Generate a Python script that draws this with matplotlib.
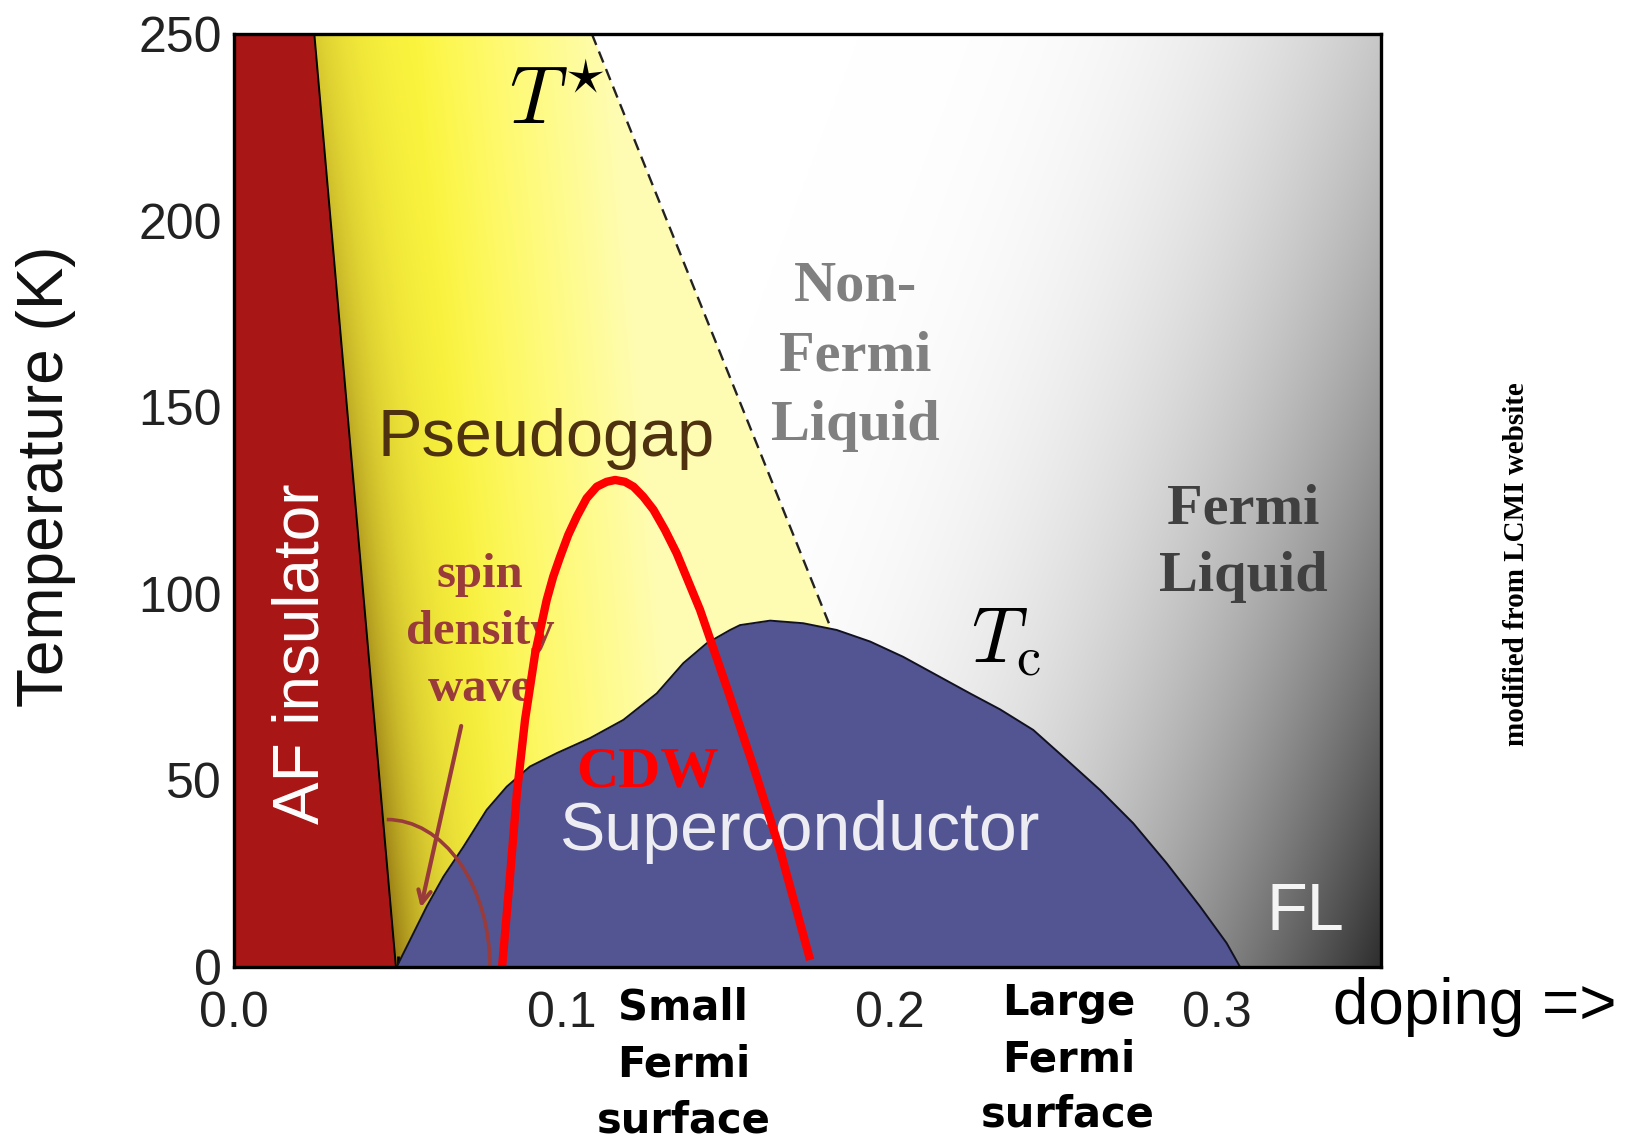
import numpy as np
import matplotlib.pyplot as plt
from matplotlib.patches import Polygon, Arc
from matplotlib.ticker import MultipleLocator

# phase boundaries (doping, temperature in K)
af_x = [0.0245, 0.0494]
af_T = [250, 0]

tstar_x = [0.1092, 0.1818]
tstar_T = [250, 91.5]

dome_x = [0.0496, 0.0537, 0.0588, 0.0639, 0.0700, 0.0771, 0.0832, 0.0903, 0.0985,
          0.1086, 0.1188, 0.1290, 0.1371, 0.1442, 0.1514, 0.1544, 0.1636, 0.1737,
          0.1839, 0.1941, 0.2042, 0.2144, 0.2246, 0.2338, 0.2439, 0.2541, 0.2643,
          0.2744, 0.2846, 0.2948, 0.3029, 0.3070]
dome_T = [0, 7.2, 16.2, 24.2, 32.2, 42.1, 48.3, 53.7, 57.3,
          61.3, 66.2, 73.3, 81.4, 86.7, 90.3, 91.6, 92.8, 92.1,
          90.3, 87.2, 83.1, 78.2, 73.3, 69.0, 63.5, 55.5, 47.4,
          38.5, 27.8, 16.2, 6.4, 0]

cdw_x = [0.0818, 0.0842, 0.0863, 0.0888, 0.0919, 0.0954, 0.0974, 0.0995, 0.1020,
         0.1046, 0.1076, 0.1107, 0.1137, 0.1163, 0.1193, 0.1219, 0.1249, 0.1280,
         0.1315, 0.1351, 0.1422, 0.1503, 0.1585, 0.1666, 0.1758]
cdw_T = [0, 24.2, 46.5, 66.2, 84.1, 98.3, 104.6, 109.9, 115.8,
         120.7, 125.6, 128.7, 130.0, 130.5, 130.0, 128.7, 126.0, 122.5,
         117.1, 110.8, 95.7, 75.1, 53.7, 31.4, 1.9]

# spin density wave marker: quarter ellipse + arrow
sdw_center = (0.0466, 0)
sdw_rx, sdw_ry = 0.0315, 39.5
sdw_arrow_from = (0.0695, 65.3)
sdw_arrow_to = (0.0568, 15.2)

x_ticks = [0.0, 0.1, 0.2, 0.3]
x_ticklabels = ['0.0', '0.1', '0.2', '0.3']
y_ticks = [0, 50, 100, 150, 200, 250]

plt.rcParams['font.family'] = ['Liberation Sans', 'DejaVu Sans']
plt.rcParams['mathtext.fontset'] = 'cm'

fig = plt.figure(figsize=(16.31, 11.45), dpi=100)
ax = fig.add_axes([0.1435, 0.1555, 0.7032, 0.8148])

brown = '#993b3b'

# background: white -> grey towards high doping / low T
xs = np.linspace(0, 0.35, 700)
ts = np.linspace(0, 250, 500)
X, T = np.meshgrid(xs, ts)
u = (X - 0.17) / 0.18
v = (200 - T) / 200
s = np.clip(0.68 * u + 0.32 * v, 0, 1)
g = 1 - 0.82 * s ** 2.6
ax.imshow(np.dstack([g, g, g]), extent=[0, 0.35, 0, 250], origin='lower',
          aspect='auto', interpolation='bilinear', zorder=0)

# pseudogap: yellow, darker near the AF boundary at low T
xs2 = np.linspace(0.02, 0.19, 500)
X2, T2 = np.meshgrid(xs2, ts)
x_af = np.interp(T2, af_T[::-1], af_x[::-1])
dx = X2 - x_af
b = 0.25 + 0.45 * np.clip((dx - 0.03) / 0.06, 0, 1)
base = np.dstack([np.ones_like(b), np.ones_like(b) * (1 - 0.03 * (1 - b)), b])
k = np.exp(-np.clip(dx, 0, None) / 0.014) * (0.3 + 0.5 * (1 - T2 / 250))
dark = np.array([0.5, 0.37, 0.04])
yellow = base * (1 - k[..., None]) + dark * k[..., None]
yimg = ax.imshow(np.clip(yellow, 0, 1), extent=[0.02, 0.19, 0, 250], origin='lower',
                 aspect='auto', interpolation='bilinear', zorder=1)
pg_poly = Polygon([(af_x[0], af_T[0]), (tstar_x[0], tstar_T[0]), (tstar_x[1], tstar_T[1]),
                   (tstar_x[1], 0), (af_x[1], af_T[1])], closed=True, transform=ax.transData)
yimg.set_clip_path(pg_poly)

# AF insulator
ax.fill([0, 0, af_x[0], af_x[1]], [0, 250, af_T[0], af_T[1]], color='#a91616', zorder=2, lw=0)
ax.plot(af_x, af_T, color='black', lw=1.4, zorder=2.5)

# T* line
ax.plot(tstar_x, tstar_T, color='#222222', lw=1.7, ls=(0, (5, 3)), zorder=2.5)

# superconducting dome
ax.fill_between(dome_x, dome_T, 0, color='#525591', lw=0, zorder=3)
ax.plot(dome_x, dome_T, color='#111122', lw=1.4, zorder=3.1)

# spin density wave arc and arrow
ax.add_patch(Arc(sdw_center, 2 * sdw_rx, 2 * sdw_ry, theta1=0, theta2=90,
                 color=brown, lw=2.6, zorder=4))
ax.annotate('', xy=sdw_arrow_to, xytext=sdw_arrow_from,
            arrowprops=dict(arrowstyle='->,head_length=0.9,head_width=0.45',
                            color=brown, lw=3), zorder=4)

# labels inside the diagram
ax.text(0.0207, 84, 'AF insulator', rotation=90, color='white', fontsize=46,
        ha='center', va='center', zorder=5)
ax.text(0.0952, 141.5, 'Pseudogap', color='#4e3210', fontsize=48,
        ha='center', va='center', zorder=5)
ax.text(0.1727, 36.2, 'Superconductor', color='#ececf2', fontsize=49,
        ha='center', va='center', zorder=5)
ax.text(0.327, 14.4, 'FL', color='#f4f4f4', fontsize=48, ha='center', va='center', zorder=5)
ax.text(0.0984, 231.5, r'$T^{\star}$', fontsize=58, ha='center', va='center', zorder=5)
ax.text(0.2356, 87.2, r'$T_{\mathrm{c}}$', fontsize=56, ha='center', va='center', zorder=5)
ax.text(0.1895, 163.7, 'Non-\nFermi\nLiquid', color='#808080', fontsize=42,
        family='Liberation Serif', weight='bold', ha='center', va='center',
        linespacing=1.45, zorder=5)
ax.text(0.308, 113.6, 'Fermi\nLiquid', color='#404040', fontsize=42,
        family='Liberation Serif', weight='bold', ha='center', va='center',
        linespacing=1.4, zorder=5)
ax.text(0.0751, 89.8, 'spin\ndensity\nwave', color=brown, fontsize=35,
        family='Liberation Serif', weight='bold', ha='center', va='center',
        linespacing=1.38, zorder=5)
ax.text(0.1261, 52.0, 'CDW', color='red', fontsize=42,
        family='Liberation Serif', weight='bold', ha='center', va='center', zorder=5)

# CDW dome on top
ax.plot(cdw_x, cdw_T, color='red', lw=6, solid_capstyle='butt',
        solid_joinstyle='round', zorder=6)

ax.set_xlim(0, 0.35)
ax.set_ylim(0, 250)
ax.set_xticks(x_ticks)
ax.set_xticklabels(x_ticklabels)
ax.set_yticks(y_ticks)
ax.xaxis.set_minor_locator(MultipleLocator(0.05))
ax.yaxis.set_minor_locator(MultipleLocator(25))
ax.tick_params(which='both', direction='in', width=2, labelsize=36, colors='black')
ax.tick_params(axis='x', which='both', pad=17)
ax.tick_params(axis='y', which='both', pad=9)
ax.tick_params(which='major', length=13)
ax.tick_params(which='minor', length=8)
for sp in ax.spines.values():
    sp.set_linewidth(2.4)
    sp.set_zorder(7)
for lbl in ax.get_xticklabels() + ax.get_yticklabels():
    lbl.set_color('#222222')

fig.text(0.028, 0.584, 'Temperature (K)', rotation=90, fontsize=46,
         ha='center', va='center', color='#111111')

# annotations outside the axes
fig.text(0.419, 0.0707, 'Small\nFermi\nsurface', family='DejaVu Sans', weight='bold',
         fontsize=30, ha='center', va='center', linespacing=1.45)
fig.text(0.655, 0.0751, 'Large\nFermi\nsurface', family='DejaVu Sans', weight='bold',
         fontsize=30, ha='center', va='center', linespacing=1.42)
fig.text(0.9044, 0.1205, 'doping =>', fontsize=46, ha='center', va='center')
fig.text(0.930, 0.5077, 'modified from LCMI website', rotation=90, fontsize=21,
         family='Liberation Serif', weight='bold', ha='center', va='center')

fig.savefig('out.png', dpi=100)
